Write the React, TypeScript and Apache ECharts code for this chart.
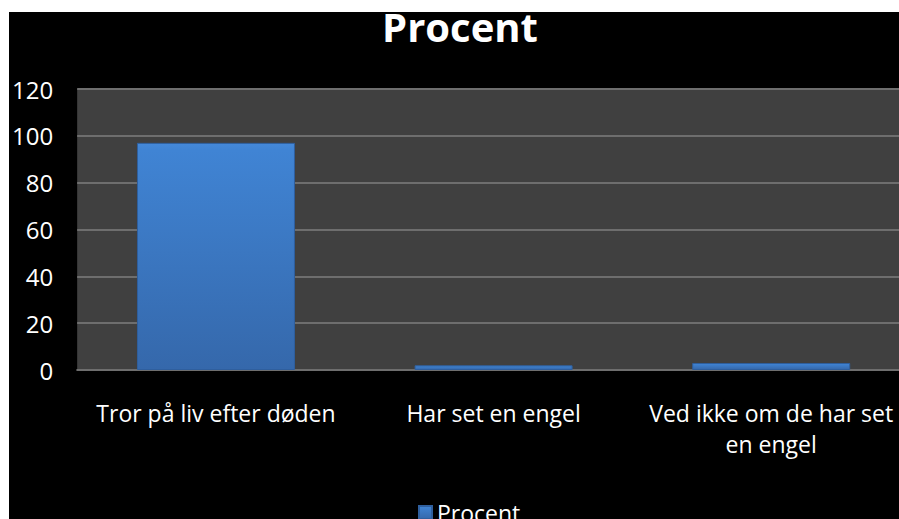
import React, { useEffect, useRef } from "react";
import * as echarts from "echarts";

const titleText = "Procent";
const seriesName = "Procent";
const categories = ["Tror på liv efter døden", "Har set en engel", "Ved ikke om de har set\nen engel"];
const values = [97, 2, 3];
const yMin = 0;
const yMax = 120;
const yInterval = 20;

export default function App() {
  const ref = useRef<HTMLDivElement>(null);
  useEffect(() => {
    document.body.style.margin = "0";
    document.documentElement.style.overflow = "hidden";
    const chart = echarts.init(ref.current!, undefined, { renderer: "svg" });
    const font = "'Open Sans', Calibri, sans-serif";
    chart.setOption({
      animation: false,
      backgroundColor: "#000000",
      graphic: [
        {
          type: "text",
          x: 451,
          y: -6,
          style: {
            text: titleText,
            fill: "#ffffff",
            font: "bold 40px 'Open Sans', sans-serif",
            textAlign: "center",
            textVerticalAlign: "top",
          },
        },
      ],
      legend: {
        data: [seriesName],
        left: 404,
        top: 484,
        itemWidth: 13,
        itemHeight: 13,
        itemGap: 7,
        icon: "rect",
        textStyle: { color: "#ffffff", fontFamily: font, fontSize: 23 },
      },
      grid: { left: 67, top: 77, width: 834, height: 281, containLabel: false, show: true, backgroundColor: "#404040", borderWidth: 0 },
      xAxis: {
        type: "category",
        data: categories,
        axisLine: { show: true, lineStyle: { color: "#6e6e6e", width: 2 } },
        axisTick: { show: false },
        axisLabel: { color: "#ffffff", fontFamily: font, fontSize: 23, margin: 27, lineHeight: 31, interval: 0 },
      },
      yAxis: {
        type: "value",
        min: yMin,
        max: yMax,
        interval: yInterval,
        axisLine: { show: false },
        axisTick: { show: false },
        splitLine: { show: true, lineStyle: { color: "#6e6e6e", width: 2 } },
        axisLabel: { color: "#ffffff", fontFamily: font, fontSize: 24, margin: 24 },
      },
      series: [
        {
          name: seriesName,
          type: "bar",
          data: values,
          barWidth: 158,
          itemStyle: {
            color: new echarts.graphic.LinearGradient(0, 0, 0, 1, [
              { offset: 0, color: "#4588d8" },
              { offset: 0.03, color: "#4084d4" },
              { offset: 1, color: "#3568ab" },
            ]),
            borderColor: "#2f5f9e",
            borderWidth: 1,
          },
        },
      ],
    });
    return () => chart.dispose();
  }, []);
  return (
    <div style={{ position: "relative", width: 899, height: 519, background: "#ffffff", overflow: "hidden" }}>
      <div ref={ref} style={{ position: "absolute", left: 9, top: 12, width: 920, height: 507 }} />
    </div>
  );
}
